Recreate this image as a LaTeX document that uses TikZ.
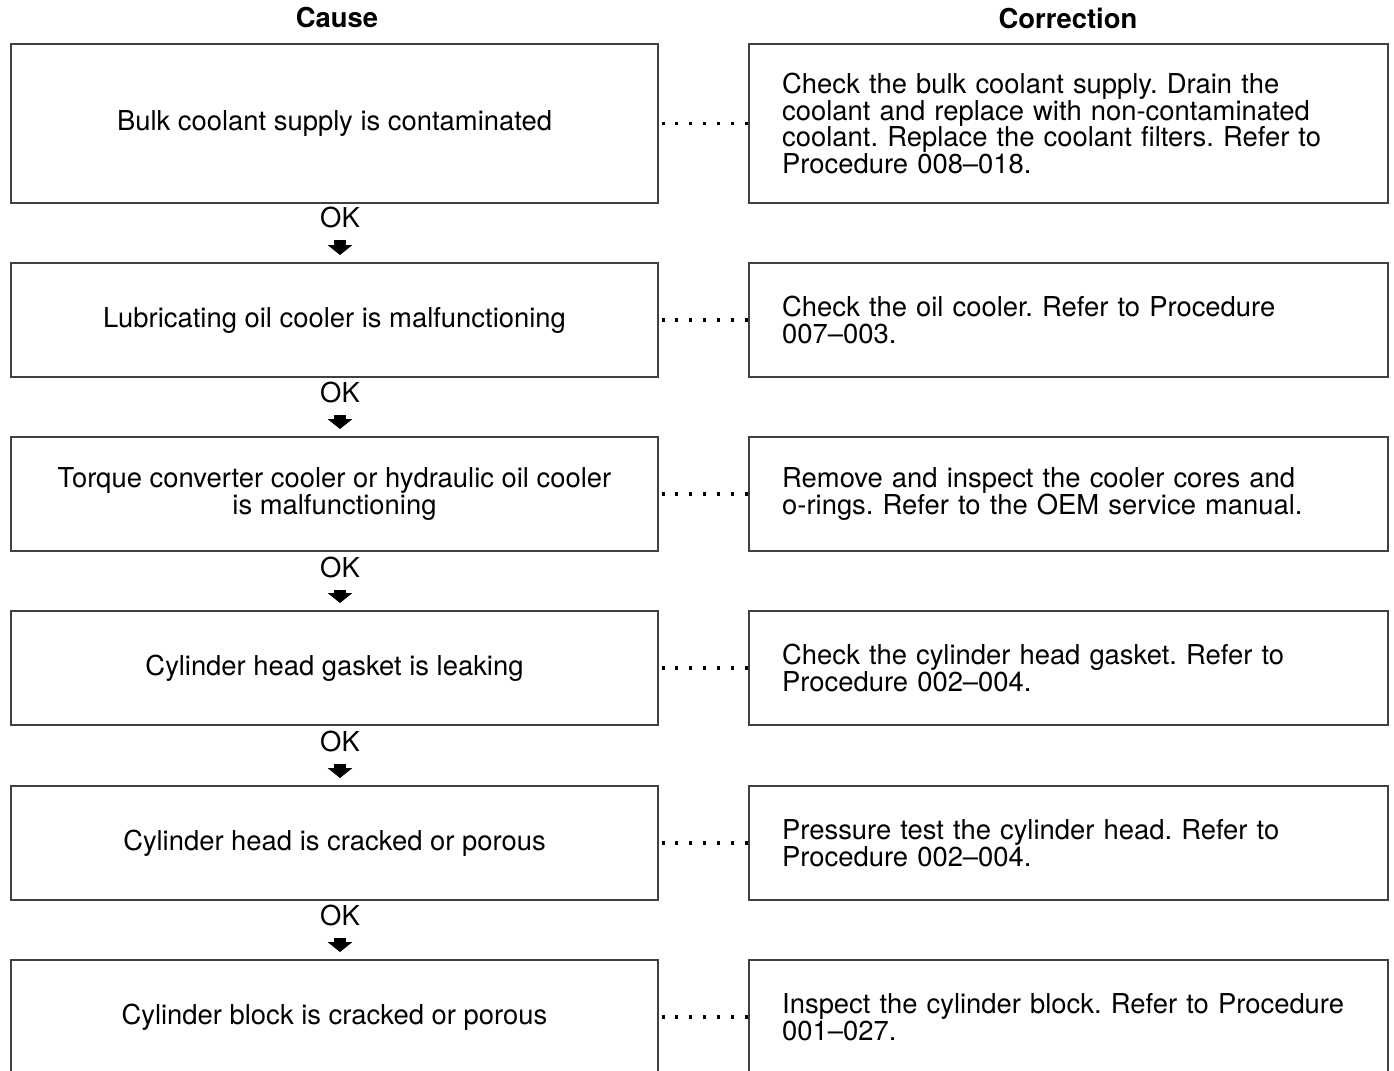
\documentclass[tikz,border=0pt]{standalone}
\usepackage{fontspec}
\setmainfont{TeX Gyre Heros}
\usetikzlibrary{arrows.meta}
\newcommand\pxu{0.365pt}
\frenchspacing
\begin{document}
\begin{tikzpicture}[x=\pxu, y=-\pxu, every node/.style={font=\fontsize{10}{9.8}\selectfont},
cause box/.style={draw=black!75, line width=0.75pt, minimum width=236pt, minimum height=41.6pt, align=center, inner sep=0pt},
fix box/.style={draw=black!75, line width=0.75pt, text width=209pt, minimum height=41.6pt, align=left, inner xsep=12pt, inner ysep=0pt},
ok node/.style={inner sep=0pt},
ok arrow/.style={line width=4.4pt, -{Triangle[width=9.1pt,length=3.65pt,line width=0pt]}, shorten <=4pt, shorten >=2.55pt},
dot line/.style={line width=1.1pt, dash pattern=on 1.1pt off 3.95pt, dash phase=-1pt}]
\clip (0,0) rectangle (1394,1071);
\begin{scope}
\node[font=\fontsize{10}{9.8}\selectfont\bfseries] (hc) at (337,18) {Cause};
\node[font=\fontsize{10}{9.8}\selectfont\bfseries] (hf) at (1068,18) {Correction};
\node[cause box, minimum height=58pt] (c1) at (334.5,123.5) {Bulk coolant supply is contaminated};
\node[cause box] (c2) at (334.5,320) {Lubricating oil cooler is malfunctioning};
\node[cause box] (c3) at (334.5,494) {Torque converter cooler or hydraulic oil cooler\\is malfunctioning};
\node[cause box] (c4) at (334.5,668) {Cylinder head gasket is leaking};
\node[cause box] (c5) at (334.5,843) {Cylinder head is cracked or porous};
\node[cause box] (c6) at (334.5,1017) {Cylinder block is cracked or porous};
\node[fix box, minimum height=58pt] (r1) at (1068.5,123.5) {Check the bulk coolant supply. Drain the\\coolant and replace with non-contaminated\\coolant. Replace the coolant filters. Refer to\\Procedure 008--018.};
\node[fix box] (r2) at (1068.5,320) {Check the oil cooler. Refer to Procedure\\007--003.};
\node[fix box] (r3) at (1068.5,494) {Remove and inspect the cooler cores and\\o-rings. Refer to the OEM service manual.};
\node[fix box] (r4) at (1068.5,668) {Check the cylinder head gasket. Refer to\\Procedure 002--004.};
\node[fix box] (r5) at (1068.5,843) {Pressure test the cylinder head. Refer to\\Procedure 002--004.};
\node[fix box] (r6) at (1068.5,1017) {Inspect the cylinder block. Refer to Procedure\\001--027.};
\node[ok node] (ok1) at (340,218) {OK};
\node[ok node] (ok2) at (340,393) {OK};
\node[ok node] (ok3) at (340,568) {OK};
\node[ok node] (ok4) at (340,742) {OK};
\node[ok node] (ok5) at (340,916) {OK};
\end{scope}
\begin{scope}
\draw[dot line] (c1) -- (r1);
\draw[dot line] (c2) -- (r2);
\draw[dot line] (c3) -- (r3);
\draw[dot line] (c4) -- (r4);
\draw[dot line] (c5) -- (r5);
\draw[dot line] (c6) -- (r6);
\draw[ok arrow] (ok1.south) -- (ok1.south |- c2.north);
\draw[ok arrow] (ok2.south) -- (ok2.south |- c3.north);
\draw[ok arrow] (ok3.south) -- (ok3.south |- c4.north);
\draw[ok arrow] (ok4.south) -- (ok4.south |- c5.north);
\draw[ok arrow] (ok5.south) -- (ok5.south |- c6.north);
\end{scope}
\end{tikzpicture}
\end{document}
